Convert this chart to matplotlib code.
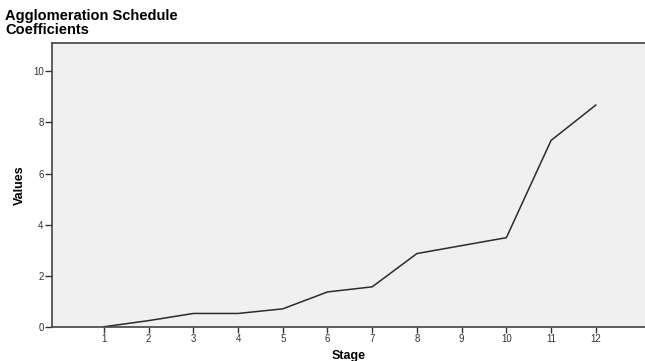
import matplotlib.pyplot as plt

stages = [1, 2, 3, 4, 5, 6, 7, 8, 9, 10, 11, 12]
coefficients = [0.02, 0.26, 0.54, 0.54, 0.72, 1.38, 1.58, 2.88, 3.19, 3.50, 7.30, 8.68]
y_ticks = [0, 2, 4, 6, 8, 10]

plt.rcParams['font.family'] = ['Liberation Sans', 'DejaVu Sans']

fig = plt.figure(figsize=(6.45, 3.61), dpi=100)
ax = fig.add_axes([0.0806, 0.0934, 0.9194, 0.7886])
ax.set_facecolor('#f0f0f0')

ax.plot(stages, coefficients, color='#2b2b2b', linewidth=1.1)

ax.set_xlim(-0.16, 13.1)
ax.set_ylim(0, 11.12)
ax.set_xticks(stages)
ax.set_yticks(y_ticks)
ax.tick_params(axis='both', labelsize=7, colors='#333333', direction='out')
ax.tick_params(axis='y', length=5, width=1, pad=1)
ax.tick_params(axis='x', length=4, width=1, pad=1)

for side in ['left', 'top', 'bottom']:
    ax.spines[side].set_color('#444444')
    ax.spines[side].set_linewidth(1.2)
ax.spines['right'].set_visible(False)

ax.set_xlabel('Stage', fontsize=9, fontweight='bold', labelpad=4)
ax.set_ylabel('Values', fontsize=9, fontweight='bold', labelpad=5)

fig.text(0.008, 0.957, 'Agglomeration Schedule', fontsize=10.5, fontweight='bold', va='center')
fig.text(0.008, 0.917, 'Coefficients', fontsize=10.5, fontweight='bold', va='center')

fig.savefig('out.png', dpi=100)
